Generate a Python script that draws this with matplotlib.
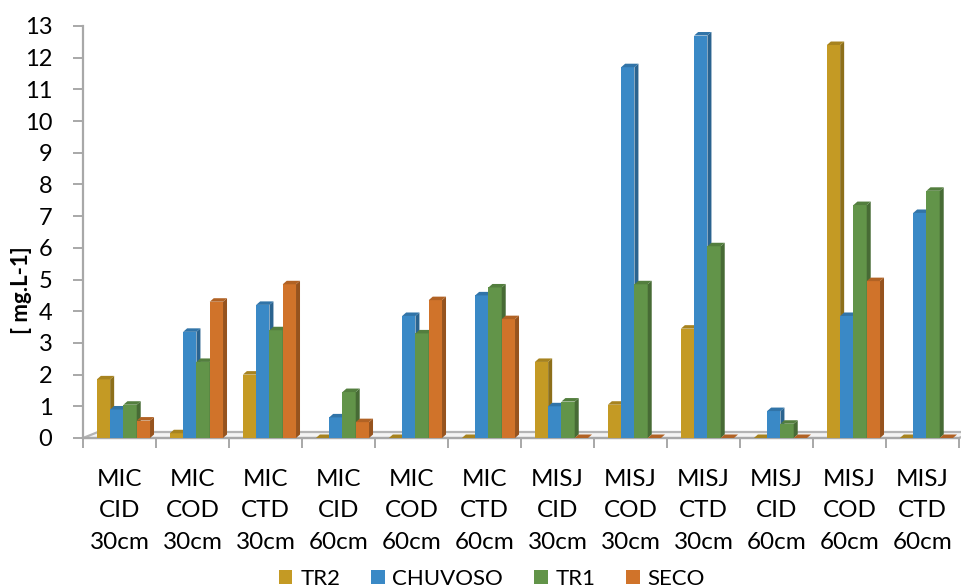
import matplotlib
matplotlib.use("Agg")
import matplotlib.pyplot as plt
from matplotlib.patches import Polygon, Patch
import matplotlib.colors as mcolors
import numpy as np

plt.rcParams['font.family'] = ['Lato', 'DejaVu Sans']

categories = ["MIC\nCID\n30cm", "MIC\nCOD\n30cm", "MIC\nCTD\n30cm",
              "MIC\nCID\n60cm", "MIC\nCOD\n60cm", "MIC\nCTD\n60cm",
              "MISJ\nCID\n30cm", "MISJ\nCOD\n30cm", "MISJ\nCTD\n30cm",
              "MISJ\nCID\n60cm", "MISJ\nCOD\n60cm", "MISJ\nCTD\n60cm"]
series_names = ["TR2", "CHUVOSO", "TR1", "SECO"]
tr2     = [1.85, 0.15, 2.0, 0.0, 0.0, 0.0, 2.4, 1.05, 3.45, 0.0, 12.4, 0.0]
chuvoso = [0.9, 3.35, 4.2, 0.65, 3.85, 4.5, 1.0, 11.7, 12.7, 0.85, 3.85, 7.1]
tr1     = [1.05, 2.4, 3.4, 1.45, 3.3, 4.75, 1.15, 4.85, 6.05, 0.45, 7.35, 7.8]
seco    = [0.55, 4.3, 4.85, 0.5, 4.35, 3.75, 0.0, 0.0, 0.0, 0.0, 4.95, 0.0]
colors = ["#C49A24", "#3A89C6", "#629449", "#D0732A"]

W, H = 961, 588
fig = plt.figure(figsize=(W / 100, H / 100), dpi=100)
x0, x1, y0, y1 = 83, 959, 438, 26
ax = fig.add_axes([x0 / W, 1 - y0 / H, (x1 - x0) / W, (y0 - y1) / H])
ax.set_xlim(0, 12)
ax.set_ylim(0, 13)

# pixel -> data conversions
px_x = 12 / (x1 - x0)
px_y = 13 / (y0 - y1)
dx, dy = 4 * px_x, 3.5 * px_y

# floor
fdx, fdy = 15 * px_x, 6 * px_y
floor = Polygon([(0, 0), (12, 0), (12 + fdx, fdy), (fdx, fdy)], closed=True,
                facecolor="#f4f4f4", edgecolor="#b4b4b4", lw=1.6, clip_on=False, zorder=1)
ax.add_patch(floor)

def darker(c, f):
    r, g, b = mcolors.to_rgb(c)
    return (r * f, g * f, b * f)

data = [tr2, chuvoso, tr1, seco]
bw = 0.182
start = 0.19
for i in range(len(categories)):
    for j, vals in enumerate(data):
        v = vals[i]
        xl = i + start + j * bw
        c = colors[j]
        z = 3 + j
        ax.bar(xl, v, width=bw, align="edge", color=c, zorder=z, clip_on=False)
        side = Polygon([(xl + bw, 0), (xl + bw + dx, dy), (xl + bw + dx, v + dy), (xl + bw, v)],
                       closed=True, facecolor=darker(c, 0.72), edgecolor="none", zorder=z, clip_on=False)
        top = Polygon([(xl, v), (xl + bw, v), (xl + bw + dx, v + dy), (xl + dx, v + dy)],
                      closed=True, facecolor=darker(c, 0.85), edgecolor="none", zorder=z, clip_on=False)
        ax.add_patch(side)
        ax.add_patch(top)

for s in ["top", "right"]:
    ax.spines[s].set_visible(False)
ax.spines["left"].set_color("#a8a8a8")
ax.spines["left"].set_linewidth(1.6)
ax.spines["bottom"].set_color("#a8a8a8")
ax.spines["bottom"].set_linewidth(1.6)

ax.set_yticks(range(0, 14))
ax.tick_params(axis="y", length=7, width=1.4, color="#a8a8a8", labelsize=17, pad=15)
ax.set_xticks(range(0, 13))
ax.set_xticklabels([])
ax.set_xticks(np.arange(12) + 0.5, minor=True)
ax.set_xticklabels(categories, minor=True, fontsize=17.5, linespacing=1.62)
ax.tick_params(axis="x", which="major", length=7, width=1.4, color="#a8a8a8")
ax.tick_params(axis="x", which="minor", length=0, pad=22)

ax.set_ylabel("[ mg.L-1]", fontsize=16, fontweight="bold")
ax.yaxis.set_label_coords(-0.058, 0.36)

handles = [Patch(facecolor=c, edgecolor="none") for c in colors]
fig.legend(handles, series_names, loc="lower center", ncol=4, frameon=False,
           bbox_to_anchor=(0.512, -0.035), fontsize=16, handlelength=0.6, handleheight=0.6,
           handletextpad=0.35, columnspacing=1.4)

fig.savefig("out.png", dpi=100)
